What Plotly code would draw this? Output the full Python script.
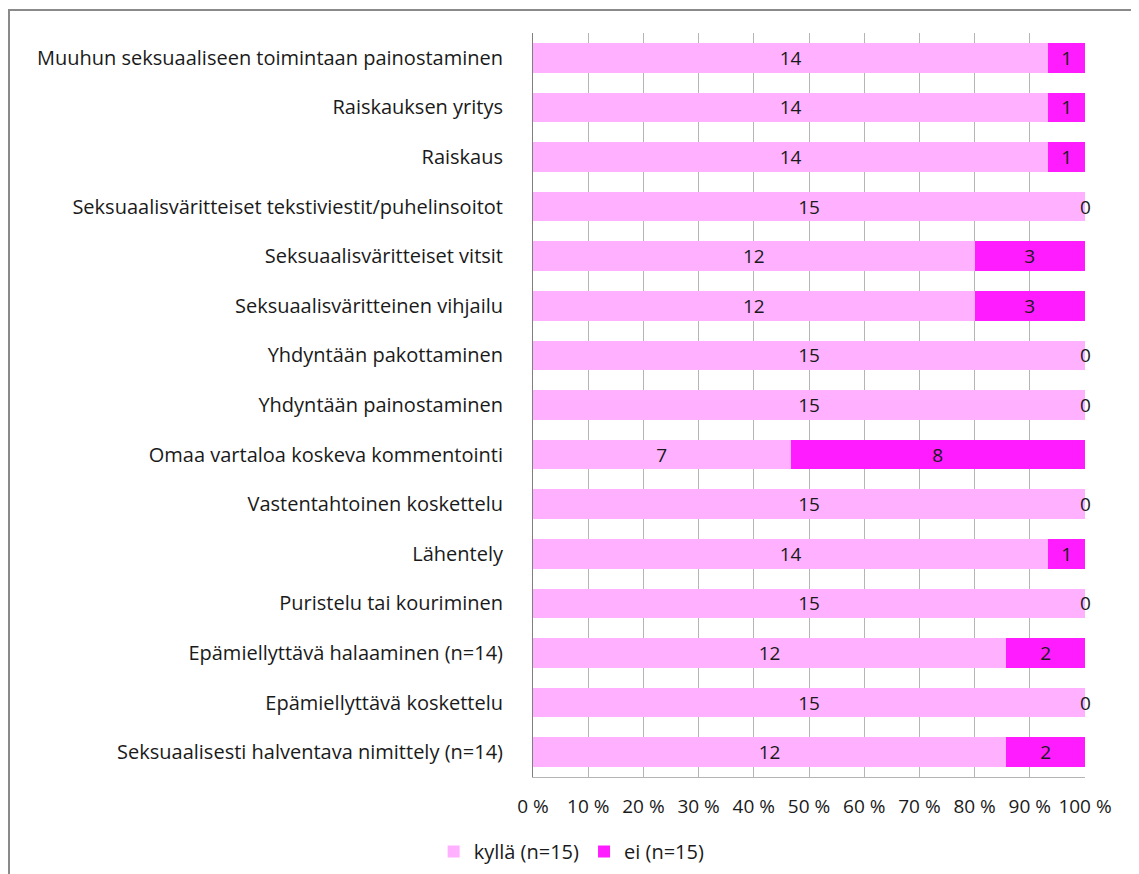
import plotly.graph_objects as go

# Categories, listed top to bottom as in the chart
CATEGORIES = [
    "Muuhun seksuaaliseen toimintaan painostaminen",
    "Raiskauksen yritys",
    "Raiskaus",
    "Seksuaalisväritteiset tekstiviestit/puhelinsoitot",
    "Seksuaalisväritteiset vitsit",
    "Seksuaalisväritteinen vihjailu",
    "Yhdyntään pakottaminen",
    "Yhdyntään painostaminen",
    "Omaa vartaloa koskeva kommentointi",
    "Vastentahtoinen koskettelu",
    "Lähentely",
    "Puristelu tai kouriminen",
    "Epämiellyttävä halaaminen (n=14)",
    "Epämiellyttävä koskettelu",
    "Seksuaalisesti halventava nimittely (n=14)",
]
KYLLA = [14, 14, 14, 15, 12, 12, 15, 15, 7, 15, 14, 15, 12, 15, 12]
EI = [1, 1, 1, 0, 3, 3, 0, 0, 8, 0, 1, 0, 2, 0, 2]

PINK = "#FFB1FF"
MAGENTA = "#FF1CFF"
FONT = "Open Sans"
SIZE = 20

totals = [a + b for a, b in zip(KYLLA, EI)]
kylla_pct = [a / t * 100 for a, t in zip(KYLLA, totals)]
ei_pct = [b / t * 100 for b, t in zip(EI, totals)]

fig = go.Figure()
fig.add_trace(
    go.Bar(
        y=CATEGORIES,
        x=kylla_pct,
        orientation="h",
        name="kyllä (n=15)",
        marker=dict(color=PINK, line=dict(width=0)),
        text=[str(v) for v in KYLLA],
        textposition="inside",
        insidetextanchor="middle",
        textangle=0,
        constraintext="none",
        textfont=dict(family=FONT, size=SIZE - 1, color="#1a1a1a"),
        hoverinfo="skip",
    )
)
fig.add_trace(
    go.Bar(
        y=CATEGORIES,
        x=ei_pct,
        orientation="h",
        name="ei (n=15)",
        marker=dict(color=MAGENTA, line=dict(width=0)),
        text=[str(v) if v else "" for v in EI],
        textposition="inside",
        insidetextanchor="middle",
        textangle=0,
        constraintext="none",
        textfont=dict(family=FONT, size=SIZE - 1, color="#1a1a1a"),
        hoverinfo="skip",
    )
)

# zero-valued "ei" segments still get a label at the end of the bar
for i, v in enumerate(EI):
    if v == 0:
        fig.add_annotation(
            x=kylla_pct[i] + ei_pct[i],
            y=CATEGORIES[i],
            text=str(v),
            showarrow=False,
            font=dict(family=FONT, size=SIZE - 1, color="#1a1a1a"),
        )

fig.update_layout(
    barmode="stack",
    bargap=0.4,
    width=1131,
    height=866,
    margin=dict(l=525, r=54, t=25, b=97, autoexpand=False),
    plot_bgcolor="white",
    paper_bgcolor="white",
    font=dict(family=FONT, size=SIZE, color="#1a1a1a"),
    legend=dict(
        orientation="h",
        x=-0.18,
        xanchor="left",
        y=-0.1,
        yanchor="middle",
        font=dict(family=FONT, size=SIZE),
        traceorder="normal",
        itemwidth=30,
    ),
    shapes=[
        dict(
            type="rect",
            xref="paper",
            yref="paper",
            x0=-524 / 552,
            x1=1.2,
            y0=-0.2,
            y1=1 + 23 / 744,
            line=dict(color="#8a8a8a", width=2),
            layer="below",
        )
    ],
)
fig.update_xaxes(
    range=[0, 100],
    dtick=10,
    ticksuffix=" %",
    showgrid=True,
    gridcolor="#b5b5b5",
    gridwidth=1,
    showline=True,
    linecolor="#b5b5b5",
    ticks="",
    ticklabelstandoff=12,
    tickfont=dict(family=FONT, size=SIZE - 1),
    zeroline=False,
    automargin=False,
    fixedrange=True,
)
fig.update_yaxes(
    autorange="reversed",
    showline=True,
    linecolor="#7f7f7f",
    ticks="outside",
    ticklen=0,
    ticklabelstandoff=25,
    tickfont=dict(family=FONT, size=SIZE),
    automargin=False,
    fixedrange=True,
)

fig.write_html("out.html")
